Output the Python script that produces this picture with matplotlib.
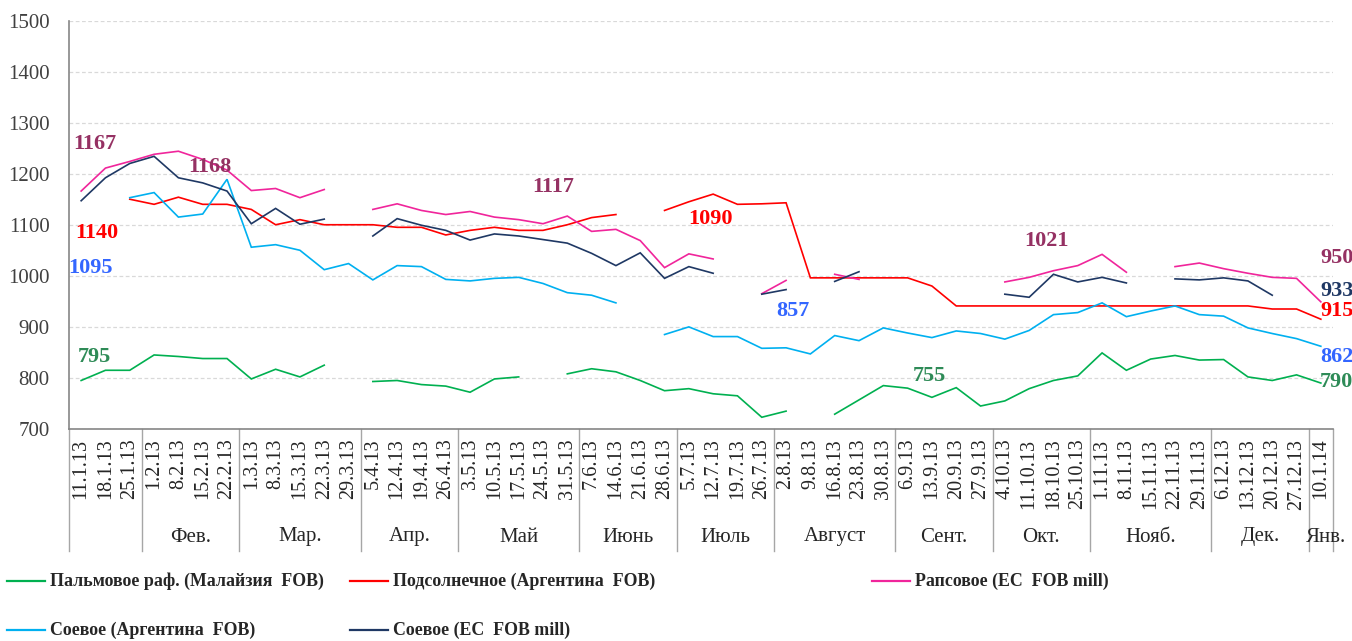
import numpy as np
import matplotlib
matplotlib.use("Agg")
import matplotlib.pyplot as plt
from matplotlib.lines import Line2D
import matplotlib.transforms as mtransforms

nan = np.nan

dates = ["11.1.13", "18.1.13", "25.1.13", "1.2.13", "8.2.13", "15.2.13", "22.2.13",
         "1.3.13", "8.3.13", "15.3.13", "22.3.13", "29.3.13", "5.4.13", "12.4.13",
         "19.4.13", "26.4.13", "3.5.13", "10.5.13", "17.5.13", "24.5.13", "31.5.13",
         "7.6.13", "14.6.13", "21.6.13", "28.6.13", "5.7.13", "12.7.13", "19.7.13",
         "26.7.13", "2.8.13", "9.8.13", "16.8.13", "23.8.13", "30.8.13", "6.9.13",
         "13.9.13", "20.9.13", "27.9.13", "4.10.13", "11.10.13", "18.10.13", "25.10.13",
         "1.11.13", "8.11.13", "15.11.13", "22.11.13", "29.11.13", "6.12.13", "13.12.13",
         "20.12.13", "27.12.13", "10.1.14"]

month_names = ["", "Фев.", "Мар.", "Апр.", "Май", "Июнь", "Июль", "Август",
               "Сент.", "Окт.", "Нояб.", "Дек.", "Янв."]

palm = [795, 815, 815, 845, 842, 838, 838, 798, 817, 802, 825, nan, 793, 795, 787, 784,
        772, 798, 802, nan, 808, 818, 812, 795, 775, 779, 769, 765, 723, 735, nan, 729,
        757, 785, 780, 762, 781, 745, 755, 779, 795, 804, 849, 815, 837, 844, 835, 836,
        802, 795, 806, 790]
sunflower = [nan, nan, 1150, 1140, 1154, 1140, 1140, 1130, 1100, 1110, 1100, 1100, 1100,
             1095, 1095, 1080, 1089, 1095, 1089, 1089, 1100, 1114, 1120, nan, 1128, 1145,
             1160, 1140, 1141, 1143, 996, 996, 996, 996, 996, 980, 941, 941, 941, 941,
             941, 941, 941, 941, 941, 941, 941, 941, 941, 935, 935, 915]
rapeseed = [1166, 1211, 1224, 1238, 1244, 1228, 1207, 1167, 1171, 1153, 1169, nan, 1130,
            1141, 1128, 1120, 1126, 1115, 1110, 1102, 1117, 1087, 1091, 1069, 1016, 1043,
            1033, nan, 965, 991, nan, 1003, 993, nan, nan, nan, nan, nan, 988, 997, 1010,
            1020, 1042, 1007, nan, 1018, 1025, 1014, 1005, 997, 995, 949]
soy_arg = [nan, nan, 1153, 1163, 1115, 1121, 1189, 1056, 1061, 1050, 1012, 1024, 992,
           1020, 1018, 993, 990, 995, 997, 985, 967, 962, 947, nan, 885, 900, 881, 881,
           858, 859, 847, 883, 873, 898, 888, 879, 892, 887, 876, 893, 924, 928, 947,
           920, 931, 941, 924, 921, 898, 887, 877, 862]
soy_eu = [1147, 1192, 1220, 1234, 1192, 1182, 1166, 1102, 1132, 1101, 1111, nan, 1078,
          1112, 1099, 1089, 1070, 1082, 1078, 1071, 1064, 1044, 1020, 1045, 995, 1018,
          1005, nan, 964, 973, nan, 989, 1008, nan, nan, nan, nan, nan, 964, 958, 1003,
          988, 997, 986, nan, 994, 992, 996, 990, 962, nan, 933]

series_names = ["Пальмовое раф. (Малайзия  FOB)", "Подсолнечное (Аргентина  FOB)",
                "Рапсовое (ЕС  FOB mill)", "Соевое (Аргентина  FOB)", "Соевое (ЕС  FOB mill)"]
series_values = [palm, sunflower, rapeseed, soy_arg, soy_eu]
line_colors = ["#00B050", "#FF0000", "#F0259B", "#00B0F0", "#1F3864"]

# data labels: text, category position, value level, colour
label_texts = ["1167", "1168", "1140", "1095", "795", "1117", "1090", "857", "755",
               "1021", "950", "933", "915", "862", "790"]
label_x = [0.58, 5.3, 0.66, 0.37, 0.53, 19.4, 25.9, 29.3, 34.9, 39.7, 51.65, 51.65,
           51.65, 51.65, 51.65]
label_y = [1259, 1214, 1083, 1015, 841, 1173, 1111, 931, 804, 1068, 1035, 970, 932,
           841, 793]
label_colors = ["#953163", "#953163", "#FF0000", "#3366FF", "#2E8B57", "#953163",
                "#FF0000", "#3366FF", "#2E8B57", "#953163", "#953163", "#1F3864",
                "#FF0000", "#3366FF", "#2E8B57"]

SERIF = ["Liberation Serif", "DejaVu Serif"]

W, H = 1352, 641
fig = plt.figure(figsize=(W / 100, H / 100), dpi=100)
ax_left, ax_right, ax_top, ax_bot = 69, 1333, 20.5, 429
ax = fig.add_axes([ax_left / W, 1 - ax_bot / H, (ax_right - ax_left) / W, (ax_bot - ax_top) / H])

x = np.arange(len(dates))
for vals, col in zip(series_values, line_colors):
    ax.plot(x, np.array(vals, dtype=float), color=col, lw=1.2, solid_joinstyle="miter")

ax.set_xlim(-0.5, len(dates) - 0.5)
ax.set_ylim(700, 1500)
ax.set_yticks(np.arange(700, 1501, 100))
ax.yaxis.grid(True, color="#D9D9D9", lw=0.9, ls=(0, (3, 2)))
ax.set_axisbelow(True)
for s in ["top", "right"]:
    ax.spines[s].set_visible(False)
for s in ["left", "bottom"]:
    ax.spines[s].set_color("#868686")
    ax.spines[s].set_linewidth(1.2)

ax.set_xticks(x)
ax.set_xticklabels(dates, rotation=90, fontfamily=SERIF, fontsize=14.5, color="#262626")
ax.tick_params(axis="x", length=0, pad=7)
ax.tick_params(axis="y", length=0, pad=14)
for t in ax.get_yticklabels():
    t.set_fontfamily(SERIF)
    t.set_fontsize(15)
    t.set_color("#404040")

# month grouping
months = [d.split(".")[1] + "." + d.split(".")[2] for d in dates]
groups = []
start = 0
for i in range(1, len(months) + 1):
    if i == len(months) or months[i] != months[start]:
        groups.append((start, i - 1))
        start = i
trans = mtransforms.blended_transform_factory(ax.transData, ax.transAxes)
depth = (551 - ax_bot) / (ax_bot - ax_top)
bounds = [g[0] - 0.5 for g in groups] + [len(dates) - 0.5]
for b in bounds:
    ax.add_line(Line2D([b, b], [0, -depth], transform=trans, color="#A6A6A6",
                       lw=1.0, clip_on=False))
mlab_y = -(537 - ax_bot) / (ax_bot - ax_top)
for (g0, g1), name in zip(groups, month_names):
    cx = (g0 + g1) / 2
    if g0 == g1:
        cx += 0.2
    ax.text(cx, mlab_y, name, transform=trans, ha="center", va="center",
            fontfamily=SERIF, fontsize=15, color="#262626", clip_on=False)

for t, lx, ly, c in zip(label_texts, label_x, label_y, label_colors):
    ax.text(lx, ly, t, ha="center", va="center", fontfamily=SERIF, fontweight="bold",
            fontsize=16, color=c, clip_on=False)

# legend (manual)
leg_pos = [(7, 581), (350, 581), (872, 581), (7, 630), (350, 630)]
for (lx0, ly0), name, col in zip(leg_pos, series_names, line_colors):
    fig.add_artist(Line2D([lx0 / W, (lx0 + 38) / W], [1 - ly0 / H, 1 - ly0 / H],
                          color=col, lw=1.6, transform=fig.transFigure))
    fig.text((lx0 + 43) / W, 1 - ly0 / H, name, ha="left", va="center",
             fontfamily=SERIF, fontweight="bold", fontsize=12.9, color="#262626")

fig.savefig("out.png", dpi=100, facecolor="white")
